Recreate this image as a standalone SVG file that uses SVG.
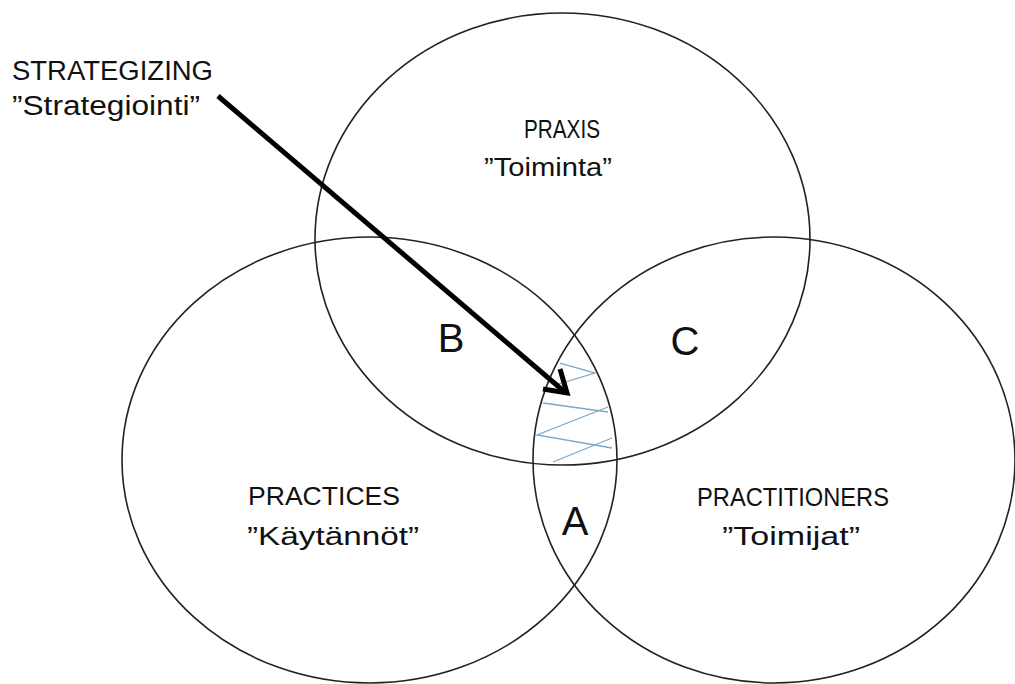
<svg xmlns="http://www.w3.org/2000/svg" width="1015" height="684" viewBox="0 0 1015 684">
<style>
.ring{fill:none;stroke:#222;stroke-width:1.6}
.lbl{font-family:"Liberation Sans",Arial,sans-serif;font-size:26px;fill:#111}
.big{font-family:"Liberation Sans",Arial,sans-serif;font-size:40px;fill:#111}
.hatch{stroke:#7fa8c8;stroke-width:1.3;fill:none}
</style>
<rect width="1015" height="684" fill="#fff"/>
<g id="praxis">
<ellipse class="ring" cx="562.5" cy="239" rx="247.5" ry="226"/>
<text class="lbl" x="562" y="138" text-anchor="middle" textLength="76" lengthAdjust="spacingAndGlyphs">PRAXIS</text>
<text class="lbl" x="548" y="176" text-anchor="middle" textLength="128" lengthAdjust="spacingAndGlyphs">”Toiminta”</text>
</g>
<g id="practices">
<ellipse class="ring" cx="369.5" cy="460" rx="247.5" ry="223"/>
<text class="lbl" x="324" y="505" text-anchor="middle" textLength="152" lengthAdjust="spacingAndGlyphs">PRACTICES</text>
<text class="lbl" x="333" y="545" text-anchor="middle" textLength="172" lengthAdjust="spacingAndGlyphs">”Käytännöt”</text>
</g>
<g id="practitioners">
<ellipse class="ring" cx="774" cy="460" rx="241" ry="223"/>
<text class="lbl" x="793" y="506" text-anchor="middle" textLength="192" lengthAdjust="spacingAndGlyphs">PRACTITIONERS</text>
<text class="lbl" x="791" y="545" text-anchor="middle" textLength="138" lengthAdjust="spacingAndGlyphs">”Toimijat”</text>
</g>
<g id="regions">
<text class="big" x="451" y="352" text-anchor="middle">B</text>
<text class="big" x="685" y="355" text-anchor="middle">C</text>
<text class="big" x="575" y="535" text-anchor="middle">A</text>
</g>
<g id="hatching" class="hatch">
<polyline points="560,363 595,373 555,385"/>
<line x1="543" y1="403" x2="608" y2="412"/>
<polyline points="608,407 537,435 612,448"/>
<line x1="612" y1="438" x2="553" y2="462"/>
</g>
<g id="strategizing">
<text class="lbl" x="12" y="80" textLength="201" lengthAdjust="spacingAndGlyphs" style="font-size:27px">STRATEGIZING</text>
<text class="lbl" x="12" y="115" textLength="188" lengthAdjust="spacingAndGlyphs" style="font-size:27px">”Strategiointi”</text>
</g>
<g id="connectors" fill="none" stroke="#000" stroke-width="5" stroke-linecap="butt">
<line x1="218" y1="96" x2="566" y2="393"/>
<polyline points="560,369 567,393 543,389" stroke-linejoin="miter"/>
</g>
</svg>
